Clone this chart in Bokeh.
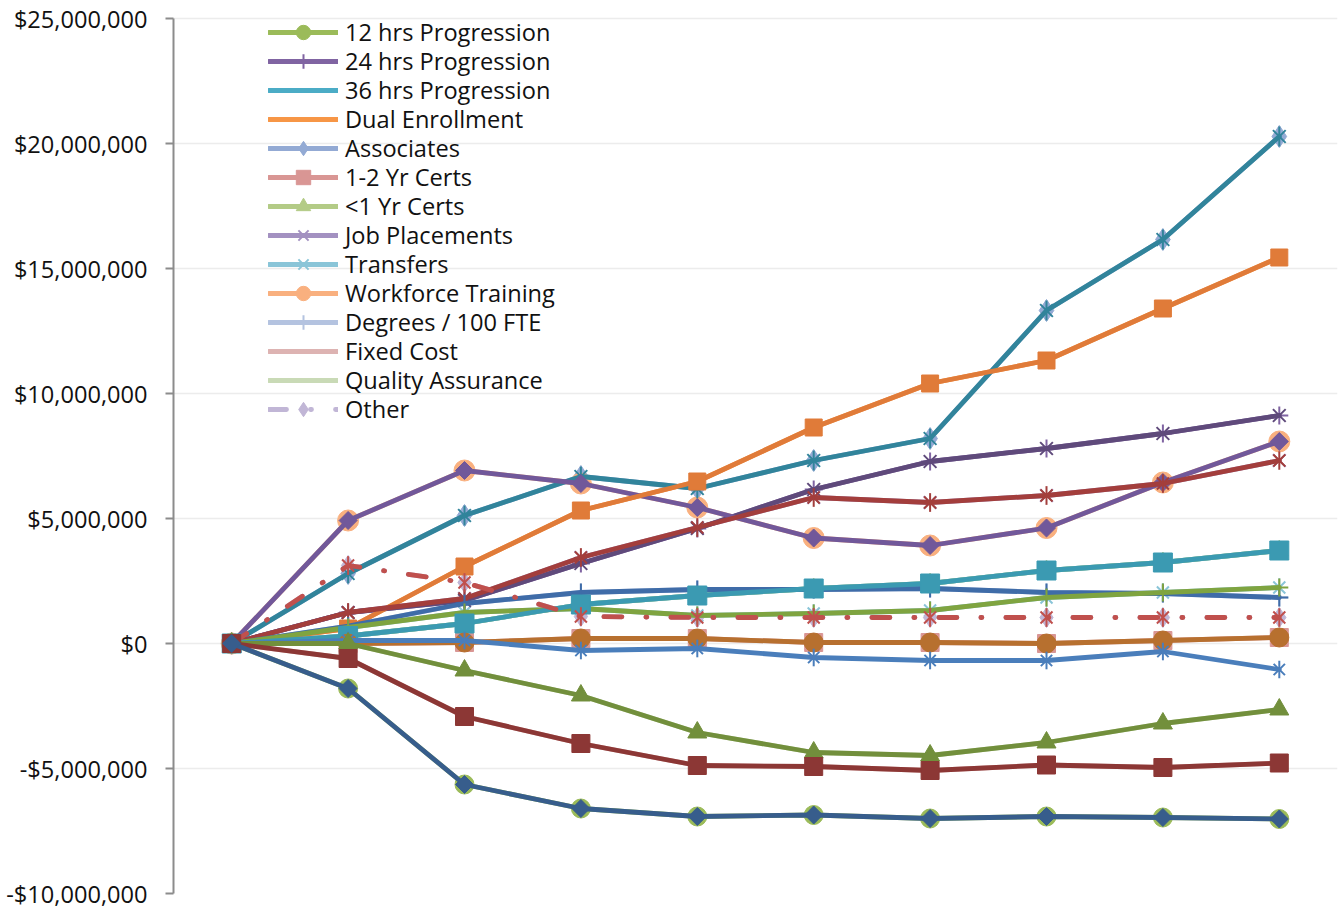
import math
from bokeh.plotting import figure
from bokeh.models import Range1d, FixedTicker, CustomJSTickFormatter, Legend, LegendItem
from bokeh.embed import file_html
from bokeh.resources import INLINE

# ---------------- data (values in millions of dollars) ----------------
periods = [0, 1, 2, 3, 4, 5, 6, 7, 8, 9]
y_ticks = [-10, -5, 0, 5, 10, 15, 20, 25]

teal_star = [0, 2.8, 5.12, 6.68, 6.2, 7.32, 8.2, 13.32, 16.16, 20.28]
orange_square = [0, 0.6, 3.08, 5.32, 6.48, 8.64, 10.4, 11.32, 13.4, 15.44]
purple_x = [0, 1.24, 1.72, 3.2, 4.6, 6.16, 7.28, 7.8, 8.4, 9.12]
red_star = [0, 1.24, 1.8, 3.44, 4.64, 5.84, 5.64, 5.92, 6.4, 7.32]
purple_diamond = [0, 4.92, 6.92, 6.4, 5.44, 4.22, 3.92, 4.62, 6.44, 8.08]
teal_square = [0, 0.3, 0.8, 1.56, 1.92, 2.2, 2.4, 2.92, 3.24, 3.72]
blue_plus = [0, 0.7, 1.6, 2.04, 2.16, 2.16, 2.2, 2.04, 2.0, 1.84]
green_plus = [0, 0.64, 1.24, 1.4, 1.12, 1.2, 1.32, 1.84, 2.04, 2.24]
red_dashdot = [0, 3.12, 2.44, 1.08, 1.04, 1.04, 1.04, 1.04, 1.04, 1.04]
brown_circle = [0, 0.0, 0.04, 0.2, 0.2, 0.04, 0.04, 0.0, 0.12, 0.24]
blue_star = [0, 0.12, 0.12, -0.28, -0.2, -0.56, -0.68, -0.68, -0.32, -1.04]
olive_triangle = [0, 0.0, -1.08, -2.08, -3.56, -4.36, -4.48, -3.96, -3.2, -2.64]
darkred_square = [0, -0.6, -2.92, -4.0, -4.88, -4.92, -5.08, -4.86, -4.96, -4.78]
navy_diamond = [0, -1.8, -5.64, -6.6, -6.92, -6.86, -7.0, -6.92, -6.96, -7.02]

legend_labels = ["12 hrs Progression", "24 hrs Progression", "36 hrs Progression",
                 "Dual Enrollment", "Associates", "1-2 Yr Certs", "<1 Yr Certs",
                 "Job Placements", "Transfers", "Workforce Training",
                 "Degrees / 100 FTE", "Fixed Cost", "Quality Assurance", "Other"]

MILLION = 1_000_000


def dollars(vals):
    return [v * MILLION for v in vals]


FONT = "Open Sans"
FONT_SIZE = "23.6px"
TOP = 13            # frame top in px; the 25M tick sits at 18 px
PX_PER_M = 25       # vertical scale: 25 px per million
y_top = 25 * MILLION + (18 - TOP) / PX_PER_M * MILLION

p = figure(width=1340, height=909, output_backend="svg", toolbar_location=None,
           x_axis_location=None, x_range=Range1d(-0.5, 9.5),
           y_range=Range1d(-10 * MILLION, y_top),
           min_border_left=173, min_border_right=3, min_border_top=TOP, min_border_bottom=16)
p.outline_line_color = None
p.xgrid.visible = False
p.ygrid.grid_line_color = "#ECECEC"
p.ygrid.grid_line_width = 1.5

ax = p.yaxis[0]
ax.bounds = (-10 * MILLION, 25 * MILLION)
ax.ticker = FixedTicker(ticks=dollars(y_ticks))
ax.formatter = CustomJSTickFormatter(code="""
const a = Math.abs(tick).toFixed(0).replace(/\\B(?=(\\d{3})+(?!\\d))/g, ",");
return (tick < 0 ? "-" : "") + "$" + a;
""")
ax.axis_line_color = "#8C8C8C"
ax.axis_line_width = 2
ax.major_tick_line_color = "#8C8C8C"
ax.major_tick_line_width = 2
ax.major_tick_out = 8
ax.major_tick_in = 0
ax.minor_tick_line_color = None
ax.major_label_standoff = 18
ax.major_label_text_font = FONT
ax.major_label_text_font_size = FONT_SIZE
ax.major_label_text_color = "#111111"


def add_markers(xs, ys, kind, color, size):
    rs = []
    if kind is None:
        return rs
    if kind == "circle":
        rs.append(p.scatter(xs, ys, marker="circle", size=size, fill_color=color, line_color=color, line_width=1))
    elif kind == "square":
        rs.append(p.scatter(xs, ys, marker="square", size=size, fill_color=color, line_color=color, line_width=1))
    elif kind == "diamond":
        rs.append(p.scatter(xs, ys, marker="square", size=size / 1.414, angle=math.pi / 4,
                            fill_color=color, line_color=color, line_width=1))
    elif kind == "ldiamond":
        rs.append(p.scatter(xs, ys, marker="diamond", size=size, fill_color=color, line_color=color, line_width=1))
    elif kind == "triangle":
        rs.append(p.scatter(xs, ys, marker="triangle", size=size, fill_color=color, line_color=color, line_width=1))
    elif kind == "x":
        rs.append(p.scatter(xs, ys, marker="x", size=size, line_color=color, line_width=2))
    elif kind == "plus":
        rs.append(p.scatter(xs, ys, marker="cross", size=size, line_color=color, line_width=2))
    elif kind == "star":
        rs.append(p.scatter(xs, ys, marker="x", size=size, line_color=color, line_width=2))
        rs.append(p.scatter(xs, ys, marker="dash", size=size * 1.1, angle=math.pi / 2,
                            line_color=color, line_width=2))
    return rs


def add_series(vals, color, kind, size, dash="solid", lw=4.8):
    ys = dollars(vals)
    ln = p.line(periods, ys, line_color=color, line_width=lw, line_join="round",
                line_cap="round", line_dash=dash)
    return [ln] + add_markers(periods, ys, kind, color, size)


# ---------- legend series (light colours, lying underneath) ----------
light_specs = [
    (navy_diamond, "#9BBB59", "circle", 19, "solid"),
    (purple_x, "#8064A2", "plus", 18, "solid"),
    (teal_square, "#4BACC6", None, 0, "solid"),
    (orange_square, "#F79646", None, 0, "solid"),
    (teal_star, "#93AAD4", "ldiamond", 22, "solid"),
    (brown_circle, "#D99694", "square", 18, "solid"),
    (teal_square, "#B3CB86", "triangle", 18, "solid"),
    (red_star, "#A391C1", "x", 18, "solid"),
    (green_plus, "#8AC5D8", "star", 17, "solid"),
    (purple_diamond, "#F9B07F", "circle", 21, "solid"),
    (blue_plus, "#B4C3E0", "plus", 18, "solid"),
    (darkred_square, "#DDB3B2", None, 0, "solid"),
    (olive_triangle, "#C9DAB6", None, 0, "solid"),
    (red_dashdot, "#C1B6D6", "ldiamond", 20, "18 24 1 24"),
]
items = []
for label, (vals, color, kind, size, dash) in zip(legend_labels, light_specs):
    rs = add_series(vals, color, kind, size, dash)
    items.append(LegendItem(label=label, renderers=rs))

# ---------- visible series (dark colours) ----------
add_series(teal_star, "#31849B", "star", 18)
add_series(purple_x, "#5F4A7B", "x", 18)
add_series(purple_diamond, "#71589A", "diamond", 18)
add_series(orange_square, "#E07B39", "square", 17)
add_series(red_star, "#A33E3C", "star", 17)
add_series(blue_plus, "#3F6CA8", "plus", 18)
add_series(green_plus, "#7FA440", "plus", 18)
add_series(teal_square, "#3B9AB2", "square", 19)
add_series(red_dashdot, "#C0504D", "star", 17, dash="18 24 1 24")
add_series(brown_circle, "#B7702F", "circle", 19)
add_series(blue_star, "#4A7EBB", "star", 16)
add_series(olive_triangle, "#728F3C", "triangle", 19)
add_series(darkred_square, "#8C3735", "square", 18)
add_series(navy_diamond, "#375D8C", "diamond", 18)

# legend: one single-row legend per entry so rows sit 29 px apart
ROW = 29
ITEM_H = 36
frame_h = 909 - TOP - 16
for i, item in enumerate(items):
    center_from_top = (32 - TOP) + ROW * i
    bottom = frame_h - (center_from_top + ITEM_H / 2)
    lg = Legend(items=[item], location=(95, bottom), orientation="vertical",
                padding=0, margin=0, spacing=0, glyph_width=70, glyph_height=ITEM_H,
                label_height=ITEM_H, label_standoff=7, label_text_font=FONT,
                label_text_font_size=FONT_SIZE, label_text_color="#111111",
                background_fill_alpha=0, border_line_alpha=0)
    p.add_layout(lg)

open("out.html", "w").write(file_html(p, INLINE))
